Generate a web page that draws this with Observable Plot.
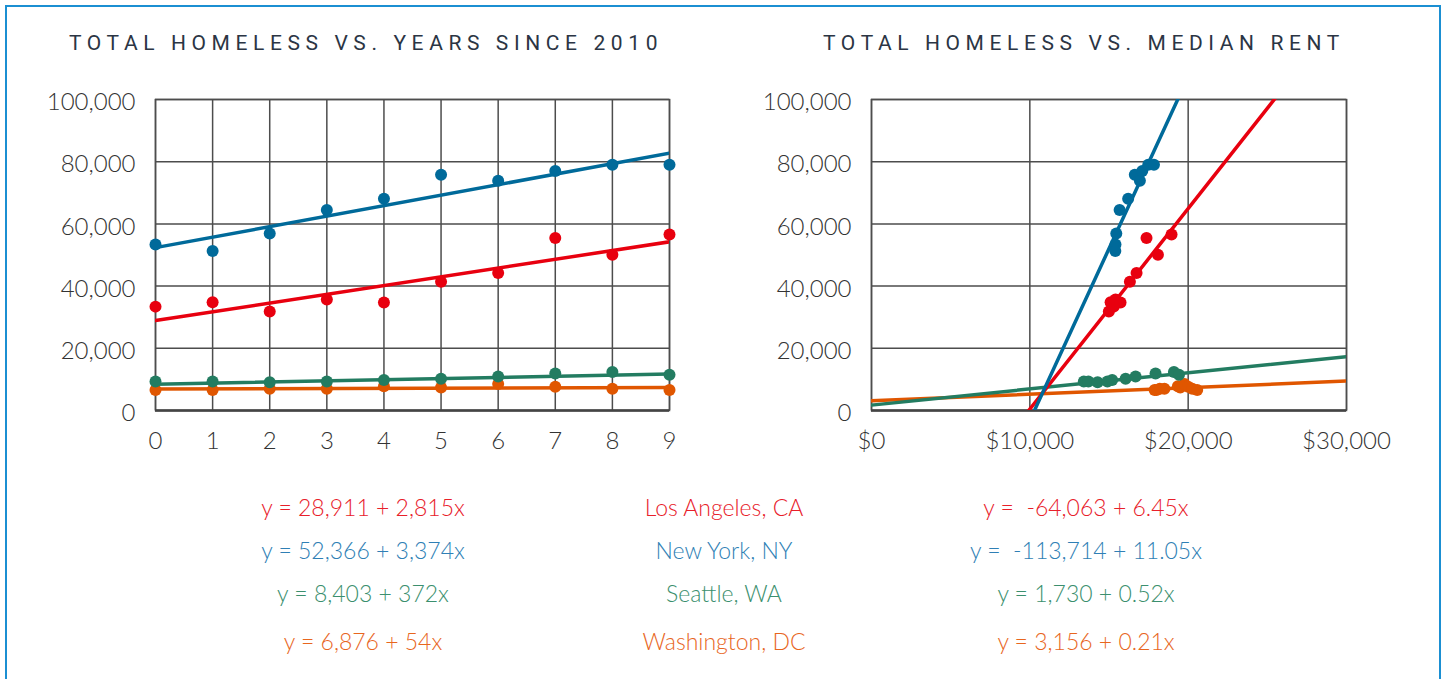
<!DOCTYPE html>
<html>
<head>
<meta charset="utf-8">
<script src="https://cdn.jsdelivr.net/npm/d3@7"></script>
<script src="https://cdn.jsdelivr.net/npm/@observablehq/plot@0.6"></script>
<style>
  html, body { margin: 0; padding: 0; background: #fff; }
  body { width: 1447px; height: 679px; position: relative; overflow: hidden; font-family: "Lato", "Open Sans", sans-serif; }
  #border { position: absolute; left: 5px; top: 5px; width: 1436px; height: 700px; border: 2px solid #1b8fd2; box-sizing: border-box; }
  .title { position: absolute; top: 31px; font-family: "Roboto", "Open Sans", sans-serif; font-size: 21px; font-weight: 400; letter-spacing: 5.6px; color: #2b3544; white-space: nowrap; transform: translateX(-50%); }
  .chart { position: absolute; top: 60px; }
  .eq { position: absolute; font-size: 23px; font-weight: 300; white-space: pre; transform: translate(-50%, -50%); }
</style>
</head>
<body>
<div id="border"></div>
<div class="title" style="left:366px">TOTAL HOMELESS VS. YEARS SINCE 2010</div>
<div class="title" style="left:1084px">TOTAL HOMELESS VS. MEDIAN RENT</div>
<div id="left" class="chart" style="left:0px"></div>
<div id="right" class="chart" style="left:720px"></div>
<div id="texts"></div>
<script>
// ---- data ----
const cities = ["Los Angeles, CA", "New York, NY", "Seattle, WA", "Washington, DC"];
const lineColors = ["#e8000f", "#006a9a", "#237c61", "#e05600"];
const textColors = ["#e8202a", "#2f7fb5", "#3b8f6e", "#e8661e"];
const years = [0, 1, 2, 3, 4, 5, 6, 7, 8, 9];

const laHomeless  = [33400, 34800, 31800, 35700, 34700, 41400, 44200, 55500, 50100, 56600];
const nyHomeless  = [53400, 51300, 56900, 64500, 68100, 75800, 73900, 77000, 79000, 79000];
const seaHomeless = [9350, 9350, 9100, 9350, 9800, 10200, 10900, 11900, 12400, 11500];
const dcHomeless  = [6600, 6600, 7000, 7000, 7800, 7400, 8500, 7600, 7000, 6600];

const laRent  = [15300, 15100, 14990, 15410, 15730, 16320, 16740, 17370, 18090, 18950];
const nyRent  = [15410, 15400, 15460, 15670, 16210, 16630, 16950, 17100, 17480, 17840];
const seaRent = [13410, 13700, 14280, 14900, 15200, 16050, 16680, 17940, 19100, 19420];
const dcRent  = [17880, 18000, 18210, 18500, 19350, 19500, 19770, 20000, 20260, 20570];

const timeIntercept = [28911, 52366, 8403, 6876];
const timeSlope     = [2815, 3374, 372, 54];
const rentIntercept = [-64063, -113714, 1730, 3156];
const rentSlope     = [6.45, 11.05, 0.52, 0.21];

const timeEq = ["y = 28,911 + 2,815x", "y = 52,366 + 3,374x", "y = 8,403 + 372x", "y = 6,876 + 54x"];
const rentEq = ["y =  -64,063 + 6.45x", "y =  -113,714 + 11.05x", "y = 1,730 + 0.52x", "y = 3,156 + 0.21x"];

const yTicks = [0, 20000, 40000, 60000, 80000, 100000];
const yearTicks = [0, 1, 2, 3, 4, 5, 6, 7, 8, 9];
const rentTicks = [0, 10000, 20000, 30000];

// ---- build tables ----
const homeless = [laHomeless, nyHomeless, seaHomeless, dcHomeless];
const rents = [laRent, nyRent, seaRent, dcRent];
const rows = [];
cities.forEach((c, i) => years.forEach((yr, j) => rows.push({city: c, year: yr, rent: rents[i][j], homeless: homeless[i][j]})));
// draw order: DC, Seattle, LA, NY
const order = [3, 2, 0, 1];

const timeLines = [], rentLines = [];
order.forEach(i => {
  [0, 9].forEach(x => timeLines.push({city: cities[i], x, y: timeIntercept[i] + timeSlope[i] * x}));
  [0, 30000].forEach(x => rentLines.push({city: cities[i], x, y: rentIntercept[i] + rentSlope[i] * x}));
});
const orderedRows = order.flatMap(i => rows.filter(r => r.city === cities[i]));

const grid = {stroke: "#4d4d4d", strokeOpacity: 1, strokeWidth: 1.5};

function chart({width, marginLeft, marginRight, xDomain, xTicks, xFormat, xKey, lines}) {
  return Plot.plot({
    width, height: 420,
    marginLeft, marginRight, marginTop: 39, marginBottom: 70,
    x: {domain: xDomain},
    y: {domain: [0, 100000]},
    color: {domain: cities, range: lineColors},
    style: {fontFamily: "Lato, 'Open Sans', sans-serif", fontSize: "24px", color: "#333", background: "transparent", overflow: "visible"},
    marks: [
      Plot.gridX(xTicks, grid),
      Plot.gridY(yTicks, grid),
      Plot.frame({stroke: "#4d4d4d", strokeWidth: 1.5}),
      Plot.ruleY([0], {stroke: "#444", strokeWidth: 2.5}),
      Plot.axisX(xTicks, {tickSize: 0, tickPadding: 21, tickFormat: xFormat, fontWeight: 300, fill: "#333"}),
      Plot.axisY(yTicks, {tickSize: 0, tickPadding: 20, tickFormat: d3.format(","), fontWeight: 300, fill: "#333", dy: 3}),
      Plot.line(lines, {x: "x", y: "y", z: "city", stroke: "city", strokeWidth: 3.5, clip: true}),
      Plot.dot(orderedRows, {x: xKey, y: "homeless", fill: "city", r: 6})
    ]
  });
}

document.getElementById("left").append(chart({
  width: 700, marginLeft: 155, marginRight: 31,
  xDomain: [0, 9], xTicks: yearTicks, xFormat: d => String(d), xKey: "year", lines: timeLines
}));
document.getElementById("right").append(chart({
  width: 727, marginLeft: 151, marginRight: 101,
  xDomain: [0, 30000], xTicks: rentTicks, xFormat: d => "$" + d3.format(",")(d), xKey: "rent", lines: rentLines
}));

// ---- equations and city names ----
const rowY = [507, 550, 593, 641];
const texts = document.getElementById("texts");
cities.forEach((c, i) => {
  [[363, timeEq[i]], [724, c], [1086, rentEq[i]]].forEach(([x, t]) => {
    const d = document.createElement("div");
    d.className = "eq";
    d.style.left = x + "px";
    d.style.top = rowY[i] + "px";
    d.style.color = textColors[i];
    d.textContent = t;
    texts.append(d);
  });
});
</script>
</body>
</html>
